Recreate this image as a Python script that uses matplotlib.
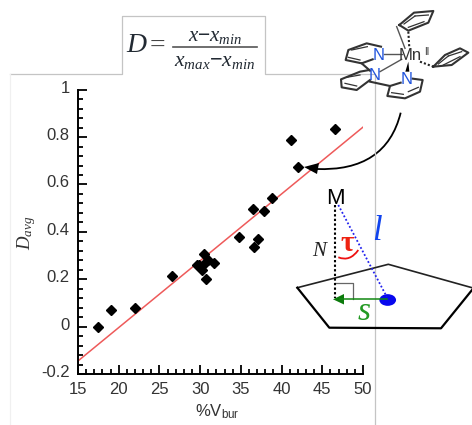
import matplotlib
matplotlib.use('Agg')
import matplotlib.pyplot as plt
from matplotlib.patches import Ellipse, PathPatch, Polygon
from matplotlib.path import Path
from matplotlib.transforms import ScaledTranslation

plt.rcParams['font.family'] = ['Liberation Sans', 'DejaVu Sans']
plt.rcParams['mathtext.fontset'] = 'custom'
plt.rcParams['mathtext.rm'] = 'Liberation Sans'
plt.rcParams['mathtext.it'] = 'Liberation Serif:italic'

# data
vbur = [17.4, 19.0, 22.0, 26.5, 29.65, 30.5, 31.7, 29.9, 31.0, 30.2, 30.6, 30.7,
        34.8, 37.15, 36.6, 36.5, 37.85, 38.8, 42.0, 41.2, 46.6]
d_avg = [0.0, 0.07, 0.079, 0.213, 0.259, 0.307, 0.267, 0.26, 0.281, 0.24, 0.267, 0.2,
         0.377, 0.371, 0.336, 0.496, 0.489, 0.541, 0.673, 0.786, 0.836]
fit_x = [15, 50]
fit_y = [-0.145, 0.842]

x_ticks = [15, 20, 25, 30, 35, 40, 45, 50]
y_ticks = [-0.2, 0, 0.2, 0.4, 0.6, 0.8, 1]
y_tick_labels = ['-0.2', '0', '0.2', '0.4', '0.6', '0.8', '1']

W, H = 472, 425
fig = plt.figure(figsize=(W / 100, H / 100), dpi=100)

# main plot
ax = fig.add_axes([78 / W, 1 - 374 / H, 285 / W, 284.3 / H])
ax.plot(fit_x, fit_y, color='#ee5a5a', lw=1.1, zorder=2)
ax.plot(vbur, d_avg, 'D', color='black', ms=5, zorder=3, clip_on=False)
ax.set_xlim(15, 50)
ax.set_ylim(-0.2, 1)
ax.set_xticks(x_ticks)
ax.set_yticks(y_ticks)
ax.set_yticklabels(y_tick_labels)
ax.set_xticks([v for v in range(15, 51) if v % 5], minor=True)
ax.set_yticks([-0.2 + 0.04 * i for i in range(31) if i % 5], minor=True)
ax.tick_params(which='major', direction='in', length=6.3, width=1.3, labelsize=12, pad=6, colors='black', labelcolor='#333333')
ax.tick_params(which='minor', direction='in', length=3.3, width=1.3)
ax.spines['top'].set_visible(False)
ax.spines['right'].set_visible(False)
ax.spines['left'].set_linewidth(1.4)
ax.spines['bottom'].set_linewidth(1.4)

# y labels sit a little above their ticks in the original
for lab in ax.get_yticklabels():
    lab.set_transform(lab.get_transform() + ScaledTranslation(0, 3 / 100, fig.dpi_scale_trans))

# overlay in pixel coordinates for the schematic parts
ov = fig.add_axes([0, 0, 1, 1], zorder=5)
ov.set_xlim(0, W)
ov.set_ylim(H, 0)
ov.axis('off')

ov.text(27, 233, r'$D_{avg}$', rotation=90, fontsize=13.5, color='#333333', ha='center', va='center')
ov.text(217, 412, r'%V$_{\mathrm{bur}}$', fontsize=12, color='#333333', ha='center', va='center')

# frame lines
ov.plot([10, 122, 122, 265, 265, 375, 375], [74, 74, 16, 16, 74, 74, 425], color='#c4c4c4', lw=0.9)
ov.plot([10, 10], [74, 425], color='#f0f0f0', lw=0.9)

# formula
ov.text(126, 45, r'$D$', fontsize=20, color='#222a33', ha='left', va='center')
ov.text(150, 46, '=', fontsize=20, color='#444444', ha='left', va='center', family='Liberation Serif')
ov.plot([173, 257], [46.5, 46.5], color='#555555', lw=1.2)
ov.text(215, 36, r'$x\mathrm{-}x_{min}$', fontsize=15, color='#222a33', ha='center', va='center')
ov.text(215, 60, r'$x_{max}\mathrm{-}x_{min}$', fontsize=15.5, color='#222a33', ha='center', va='center')


def zoom1(pts):
    return [(280 + x / 3, y / 3) for x, y in pts]


# molecule
mol = '#333333'
rings = [
    [(303, 140), (260, 130), (205, 150), (197, 180), (245, 190), (278, 178)],
    [(245, 190), (270, 212)],
    [(270, 240), (230, 270), (185, 262), (183, 238), (240, 215), (268, 210)],
    [(270, 245), (330, 258), (322, 288), (375, 295), (420, 275), (428, 240), (398, 236)],
    [(330, 258), (362, 248)],
    [(358, 75), (402, 38), (460, 33), (445, 68), (385, 92), (358, 75)],
    [(460, 200), (495, 165), (540, 145), (565, 158), (515, 195), (460, 200)],
]
for r in rings:
    xs, ys = zip(*zoom1(r))
    ov.plot(xs, ys, color=mol, lw=1.5, solid_joinstyle='round')
inner = [
    [(215, 150), (262, 140)], [(205, 172), (240, 180)],
    [(195, 250), (230, 258)], [(200, 232), (240, 225)],
    [(335, 278), (370, 283)], [(385, 275), (415, 262)],
    [(372, 72), (405, 48)], [(405, 48), (445, 45)], [(385, 82), (432, 65)],
    [(475, 192), (505, 168)], [(505, 168), (545, 155)], [(490, 195), (540, 170)],
]
for seg in inner:
    xs, ys = zip(*zoom1(seg))
    ov.plot(xs, ys, color=mol, lw=0.9)
bonds = [
    [(312, 163), (365, 163)],
    [(300, 215), (365, 178)],
    [(350, 80), (375, 145)],
]
for seg in bonds:
    xs, ys = zip(*zoom1(seg))
    ov.plot(xs, ys, color='#555555', lw=1.0)
for seg in [[(385, 95), (388, 145)], [(420, 185), (460, 200)]]:
    xs, ys = zip(*zoom1(seg))
    ov.plot(xs, ys, color='#222222', lw=1.5, ls=(0, (1, 1)))
ov.add_patch(Polygon(zoom1([(385, 185), (376, 215), (388, 215)]), color='black', lw=0))
ov.text(280 + 390 / 3, 165 / 3, 'Mn', fontsize=12, color='#333333', ha='center', va='center')
ov.text(280 + 440 / 3, 155 / 3, 'II', fontsize=7, color='#333333', ha='center', va='center')
for zx, zy in [(296, 165), (285, 225), (380, 237)]:
    ov.text(280 + zx / 3, zy / 3, 'N', fontsize=12, color='#2255dd', ha='center', va='center')

# curved arrow
curve = Path([(400.7, 112.7), (386, 172), (316, 169)], [Path.MOVETO, Path.CURVE3, Path.CURVE3])
ov.add_patch(PathPatch(curve, fc='none', ec='black', lw=1.3))
ov.add_patch(Polygon([(304, 167), (319, 163), (317, 174)], color='black', lw=0))

# ring and geometry sketch
ov.plot([297.3, 388.3, 472], [287.7, 264.3, 287.7], color='#222222', lw=1.2)
ov.plot([297.3, 329.3, 441, 472], [287.7, 327.7, 328.3, 290], color='black', lw=1.6)
ov.plot([335, 352.7, 352.7], [282.7, 282.7, 299.3], color='#666666', lw=0.9)
ov.plot([335, 335], [205, 298], color='black', lw=1.5, ls=(0, (1.1, 1.1)))
ov.plot([338.3, 386.7], [205, 296.7], color='#2222ee', lw=1.3, ls=(0, (1, 1.2)))
ov.add_patch(Ellipse((387.7, 300), 16.7, 11.7, color='#0808ee', lw=0))
ov.plot([386.7, 340], [299.3, 299.3], color='#118811', lw=1.1)
ov.add_patch(Polygon([(333, 299.3), (344, 294), (344, 304.5)], color='#0b7a0b', lw=0))
arc = Path([(338.3, 257.3), (350, 262), (358.3, 250)], [Path.MOVETO, Path.CURVE3, Path.CURVE3])
ov.add_patch(PathPatch(arc, fc='none', ec='#ee1111', lw=1.3))

ov.text(335, 198, 'M', fontsize=16, color='black', ha='center', va='center')
ov.text(319.5, 252, 'N', fontsize=15, style='italic', family='Liberation Serif', color='#222222', ha='center', va='center')
ov.text(347, 243, 'τ', fontsize=21, weight='bold', family='Liberation Serif', color='#ee2211', ha='center', va='center')
ov.text(377, 231, 'l', fontsize=25, style='italic', family='Liberation Serif', color='#1144ee', ha='center', va='center')
ov.text(364, 312, 's', fontsize=24, style='italic', family='Liberation Serif', color='#229922', ha='center', va='center')

fig.savefig('out.png', dpi=100)
